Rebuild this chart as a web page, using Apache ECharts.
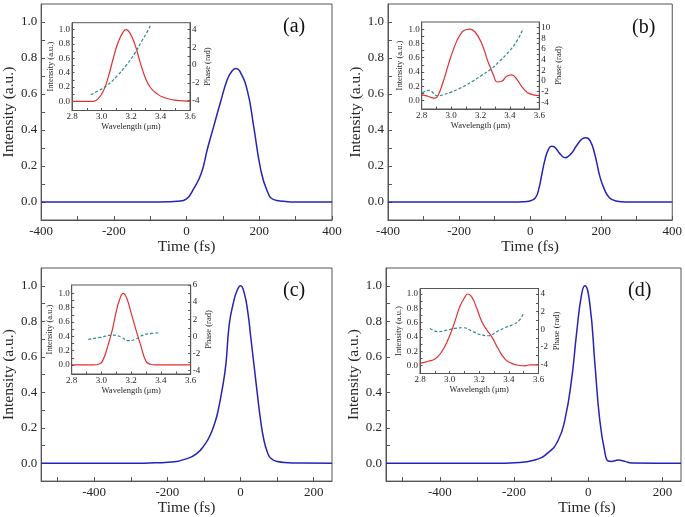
<!DOCTYPE html>
<html>
<head>
<meta charset="utf-8">
<script src="https://cdn.jsdelivr.net/npm/echarts@6/dist/echarts.min.js"></script>
<style>
html,body{margin:0;padding:0;background:#fff;}
#chart{width:685px;height:517px;}
</style>
</head>
<body>
<div id="chart"></div>
<script>
// ---------- DATA ----------
// main panels: time (fs) and intensity (a.u.)
const timeA = [-400,-100,-50,-25,0,17,40,58,76,94,112,124,135,146,167,185,203,221,240,267,300,400];
const intensityA = [0,0,0.001,0.004,0.018,0.065,0.157,0.30,0.43,0.56,0.68,0.725,0.741,0.728,0.62,0.415,0.19,0.065,0.013,0.004,0,0];

const timeB = [-400,-50,-20,0,15,24,33,42,51,60,69,83,99,114,132,146,157,169,182,196,209,223,241,270,400];
const intensityB = [0,0,0.001,0.006,0.024,0.07,0.154,0.237,0.29,0.31,0.305,0.27,0.246,0.265,0.317,0.35,0.357,0.34,0.265,0.144,0.07,0.024,0.006,0,0];

const timeC = [-545,-300,-250,-198,-144,-117,-100,-85,-70,-62,-49,-40,-31,-20,-10,0,10,20,28,37,46,55,64,73,82,100,130,164,250];
const intensityC = [0,0,0.002,0.006,0.028,0.06,0.1,0.15,0.23,0.29,0.43,0.56,0.78,0.9,0.97,1.0,0.96,0.85,0.71,0.55,0.39,0.24,0.13,0.065,0.03,0.01,0.004,0.002,0];

const timeD = [-545,-250,-198,-144,-108,-81,-63,-45,-31,-18,-9,4.5,18,31,45,54,63,72,81,90,99,117,250];
const intensityD = [0,0.001,0.004,0.019,0.06,0.13,0.245,0.47,0.74,0.95,1.0,0.894,0.56,0.245,0.06,0.013,0.011,0.015,0.019,0.016,0.011,0.002,0];

// insets: spectrum (wavelength um, intensity) and phase (wavelength um, rad)
const waveSpecA = [2.8,2.945,2.979,3.012,3.046,3.080,3.114,3.148,3.166,3.193,3.227,3.261,3.295,3.329,3.374,3.419,3.487,3.555,3.6];
const specA = [0,0,0.04,0.14,0.34,0.60,0.83,0.97,1.0,0.95,0.79,0.55,0.34,0.20,0.11,0.056,0.02,0.005,0];
const wavePhaseA = [2.927,2.979,3.035,3.103,3.171,3.227,3.272,3.306,3.335];
const phaseA = [-3.33,-2.88,-2.32,-1.26,0.05,1.37,2.68,3.62,4.6];

const waveSpecB = [2.8,2.834,2.868,2.891,2.913,2.947,2.981,3.015,3.061,3.106,3.129,3.163,3.208,3.25,3.27,3.287,3.314,3.344,3.378,3.412,3.446,3.491,3.537,3.6];
const specB = [0.08,0.065,0.042,0.033,0.08,0.27,0.5,0.71,0.92,0.995,1.0,0.96,0.80,0.55,0.45,0.36,0.26,0.27,0.34,0.36,0.30,0.17,0.093,0.07];
const wavePhaseB = [2.805,2.83,2.855,2.88,2.905,2.95,3.0,3.05,3.1,3.15,3.2,3.27,3.33,3.4,3.45,3.49];
const phaseB = [-2.2,-1.85,-1.75,-2.3,-2.8,-2.55,-2.1,-1.5,-0.8,0.0,0.9,2.2,3.7,5.7,7.6,9.8];

const waveSpecC = [2.8,2.95,2.98,3.006,3.042,3.073,3.098,3.12,3.147,3.17,3.199,3.232,3.266,3.3,3.33,3.36,3.6];
const specC = [0,0,0.01,0.05,0.26,0.49,0.73,0.9,1.0,0.93,0.73,0.49,0.26,0.05,0.01,0,0];
const wavePhaseC = [2.912,2.99,3.08,3.136,3.18,3.226,3.28,3.338,3.394];
const phaseC = [-0.35,-0.12,0.15,-0.1,-0.5,-0.35,0.15,0.35,0.43];

const waveSpecD = [2.8,2.856,2.901,2.946,2.991,3.036,3.07,3.104,3.122,3.149,3.183,3.216,3.25,3.288,3.329,3.374,3.419,3.475,3.508,3.543,3.6];
const specD = [0.03,0.06,0.09,0.19,0.37,0.62,0.83,0.96,1.0,0.96,0.80,0.62,0.50,0.39,0.23,0.09,0.03,0.0,-0.005,0.01,0.01];
const wavePhaseD = [2.868,2.924,2.98,3.036,3.092,3.149,3.205,3.261,3.317,3.374,3.43,3.47,3.5];
const phaseD = [0.1,-0.28,-0.1,0.1,0.17,-0.2,-0.6,-0.74,-0.28,0.17,0.55,1.0,1.85];

// ticks and tick labels
const timeTicksAB = [-400,-300,-200,-100,0,100,200,300,400];
const timeLabelsAB = [-400,-200,0,200,400];
const timeTicksCD = [-500,-400,-300,-200,-100,0,100,200];
const timeLabelsCD = [-400,-200,0,200];
const intensityTicks = [0,0.1,0.2,0.3,0.4,0.5,0.6,0.7,0.8,0.9,1.0];
const intensityLabels = [0,0.2,0.4,0.6,0.8,1.0];
const waveTicks = [2.8,2.9,3.0,3.1,3.2,3.3,3.4,3.5,3.6];
const waveLabels = [2.8,3.0,3.2,3.4,3.6];
const phaseTicksA = [-4,-3,-2,-1,0,1,2,3,4];
const phaseLabelsA = [-4,-2,0,2,4];
const phaseTicksB = [-4,-3,-2,-1,0,1,2,3,4,5,6,7,8,9,10];
const phaseLabelsB = [-4,-2,0,2,4,6,8,10];
const phaseTicksC = [-4,-3,-2,-1,0,1,2,3,4,5,6];
const phaseLabelsC = [-4,-2,0,2,4,6];
const phaseTicksD = [-4,-3,-2,-1,0,1,2,3,4];
const phaseLabelsD = [-4,-2,0,2,4];

const panelTags = ['(a)','(b)','(c)','(d)'];

// ---------- LAYOUT ----------
const FONT = '"Liberation Serif","Times New Roman",serif';
const AXC = '#555';
const TXT = '#262626';
const pairs = (xs, ys) => xs.map((x, i) => [x, ys[i]]);

const panels = [
  {main:{left:38,top:4,width:294,height:216}, xr:[-400,400], ticks:timeTicksAB, labels:timeLabelsAB,
   time:timeA, inten:intensityA, tagPos:[283,17], nameShift:0,
   inset:{left:72,top:22.7,width:118,height:87.8}, iy:[-0.128,1.096], py:[-5.1,4.77],
   pt:phaseTicksA, pl:phaseLabelsA, ws:waveSpecA, s:specA, wp:wavePhaseA, p:phaseA},
  {main:{left:388,top:4,width:294,height:216}, xr:[-400,400], ticks:timeTicksAB, labels:timeLabelsAB,
   time:timeB, inten:intensityB, tagPos:[632,18], nameShift:0,
   inset:{left:421.7,top:22,width:117.6,height:87}, iy:[-0.118,1.1], py:[-5.25,11.03],
   pt:phaseTicksB, pl:phaseLabelsB, ws:waveSpecB, s:specB, wp:wavePhaseB, p:phaseB},
  {main:{left:37,top:268,width:295,height:215}, xr:[-545,250], ticks:timeTicksCD, labels:timeLabelsCD,
   time:timeC, inten:intensityC, tagPos:[283,281], nameShift:0,
   inset:{left:71.7,top:285,width:119,height:89}, iy:[-0.126,1.116], py:[-4.385,6],
   pt:phaseTicksC, pl:phaseLabelsC, ws:waveSpecC, s:specC, wp:wavePhaseC, p:phaseC},
  {main:{left:386,top:268,width:295,height:215}, xr:[-545,250], ticks:timeTicksCD, labels:timeLabelsCD,
   time:timeD, inten:intensityD, tagPos:[628,281], nameShift:107,
   inset:{left:420,top:288.5,width:118.5,height:85}, iy:[-0.112,1.077], py:[-5.02,4.62],
   pt:phaseTicksD, pl:phaseLabelsD, ws:waveSpecD, s:specD, wp:wavePhaseD, p:phaseD}
];

const grid = [], xAxis = [], yAxis = [], series = [], graphic = [];

panels.forEach((pn, i) => {
  grid[i] = Object.assign({show:true, borderColor:AXC, borderWidth:1, backgroundColor:'transparent'}, pn.main);
  grid[4+i] = Object.assign({show:true, borderColor:AXC, borderWidth:1, backgroundColor:'#fff'}, pn.inset);

  xAxis[i] = {
    type:'value', gridIndex:i, min:pn.xr[0], max:pn.xr[1],
    axisLine:{show:true, onZero:false, lineStyle:{color:AXC}},
    axisTick:{show:true, inside:true, length:4, customValues:pn.ticks, lineStyle:{color:AXC}},
    axisLabel:{customValues:pn.labels, formatter:v => String(Math.round(v)), fontFamily:FONT, fontSize:13, color:TXT, margin:5},
    splitLine:{show:false},
    name:'Time (fs)', nameLocation:'middle', nameGap:17,
    nameTextStyle:{fontFamily:FONT, fontSize:15.5, fontWeight:'normal', color:TXT, padding:[0,0,0,pn.nameShift]}
  };
  yAxis[i] = {
    type:'value', gridIndex:i, min:-0.1, max:1.1,
    axisLine:{show:true, onZero:false, lineStyle:{color:AXC}},
    axisTick:{show:true, inside:true, length:4, customValues:intensityTicks, lineStyle:{color:AXC}},
    axisLabel:{customValues:intensityLabels, formatter:v => v.toFixed(1), fontFamily:FONT, fontSize:13, color:TXT, margin:4},
    splitLine:{show:false},
    name:'Intensity (a.u.)', nameLocation:'middle', nameGap:24,
    nameTextStyle:{fontFamily:FONT, fontSize:15.5, fontWeight:'normal', color:TXT}
  };
  xAxis[4+i] = {
    type:'value', gridIndex:4+i, min:2.8, max:3.6,
    axisLine:{show:true, onZero:false, lineStyle:{color:AXC}},
    axisTick:{show:true, inside:true, length:2.5, customValues:waveTicks, lineStyle:{color:AXC}},
    axisLabel:{customValues:waveLabels, formatter:v => v.toFixed(1), fontFamily:FONT, fontSize:9, color:TXT, margin:2},
    splitLine:{show:false},
    name:'Wavelength (\u03bcm)', nameLocation:'middle', nameGap:10,
    nameTextStyle:{fontFamily:FONT, fontSize:8.5, fontWeight:'normal', color:TXT}
  };
  yAxis[4+i] = {
    type:'value', gridIndex:4+i, position:'left', min:pn.iy[0], max:pn.iy[1],
    axisLine:{show:true, onZero:false, lineStyle:{color:AXC}},
    axisTick:{show:true, inside:true, length:2.5, customValues:intensityTicks, lineStyle:{color:AXC}},
    axisLabel:{customValues:intensityLabels, formatter:v => v.toFixed(1), fontFamily:FONT, fontSize:9, color:TXT, margin:2},
    splitLine:{show:false},
    name:'Intensity (a.u.)', nameLocation:'middle', nameGap:16,
    nameTextStyle:{fontFamily:FONT, fontSize:8.5, fontWeight:'normal', color:TXT}
  };
  yAxis[8+i] = {
    type:'value', gridIndex:4+i, position:'right', min:pn.py[0], max:pn.py[1],
    axisLine:{show:true, onZero:false, lineStyle:{color:AXC}},
    axisTick:{show:true, inside:true, length:2.5, customValues:pn.pt, lineStyle:{color:AXC}},
    axisLabel:{customValues:pn.pl, formatter:v => String(Math.round(v)), fontFamily:FONT, fontSize:9, color:TXT, margin:2},
    splitLine:{show:false},
    name:'Phase (rad)', nameLocation:'middle', nameGap:12, nameRotate:90,
    nameTextStyle:{fontFamily:FONT, fontSize:8.5, fontWeight:'normal', color:TXT}
  };

  series.push({
    type:'line', xAxisIndex:i, yAxisIndex:i, data:pairs(pn.time, pn.inten),
    showSymbol:false, smooth:0.5,
    lineStyle:{color:'#2424b8', width:1.5}, z:3
  });
  series.push({
    type:'line', xAxisIndex:4+i, yAxisIndex:4+i, data:pairs(pn.ws, pn.s),
    showSymbol:false, smooth:0.5,
    lineStyle:{color:'#e03030', width:1.2}, z:4
  });
  series.push({
    type:'line', xAxisIndex:4+i, yAxisIndex:8+i, data:pairs(pn.wp, pn.p),
    showSymbol:false, smooth:0.5,
    lineStyle:{color:'#2a8a8a', width:1.2, type:[3,2]}, z:4
  });

  graphic.push({
    type:'text', left:pn.tagPos[0], top:pn.tagPos[1],
    style:{text:panelTags[i], fontFamily:FONT, fontSize:20, fill:'#111'}
  });
});

const chart = echarts.init(document.getElementById('chart'), null, {renderer:'canvas'});
chart.setOption({
  animation:false,
  backgroundColor:'#fff',
  grid, xAxis, yAxis, series, graphic
});
</script>
</body>
</html>
